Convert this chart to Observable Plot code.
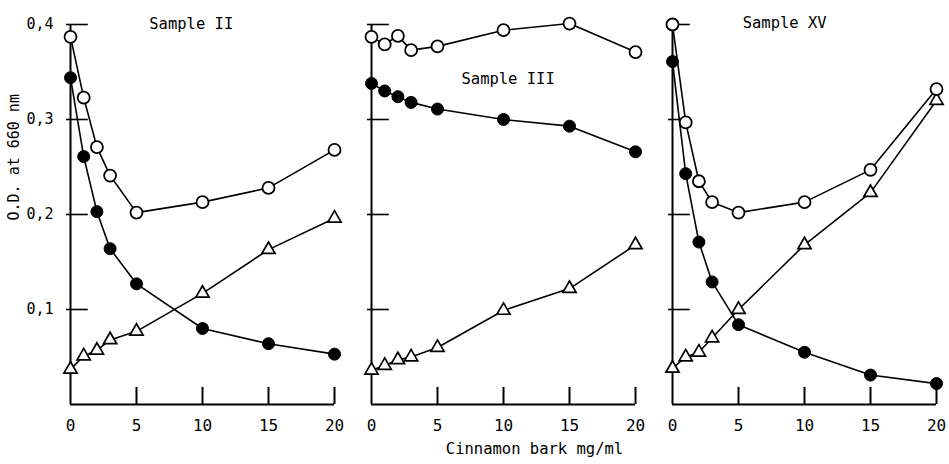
<!DOCTYPE html>
<html>
<head>
<meta charset="utf-8">
<script src="https://cdn.jsdelivr.net/npm/d3@7"></script>
<script src="https://cdn.jsdelivr.net/npm/@observablehq/plot@0.6"></script>
<style>
  html, body { margin: 0; padding: 0; background: #fff; }
</style>
</head>
<body>
<div id="chart"></div>
<script>
// ---- data ----
const conc = [0, 1, 2, 3, 5, 10, 15, 20];
const panels = ["II", "III", "XV"];
const sampleNames = ["Sample II", "Sample III", "Sample XV"];

// Sample II
const openII   = [0.387, 0.323, 0.271, 0.241, 0.202, 0.213, 0.228, 0.268];
const filledII = [0.344, 0.261, 0.203, 0.164, 0.127, 0.080, 0.064, 0.053];
const triII    = [0.037, 0.051, 0.057, 0.068, 0.077, 0.117, 0.163, 0.196];
// Sample III
const openIII   = [0.387, 0.379, 0.388, 0.373, 0.377, 0.394, 0.401, 0.371];
const filledIII = [0.338, 0.330, 0.324, 0.318, 0.311, 0.300, 0.293, 0.266];
const triIII    = [0.036, 0.041, 0.047, 0.050, 0.060, 0.099, 0.122, 0.168];
// Sample XV
const openXV   = [0.400, 0.297, 0.235, 0.213, 0.202, 0.213, 0.247, 0.332];
const filledXV = [0.361, 0.243, 0.171, 0.129, 0.084, 0.055, 0.031, 0.022];
const triXV    = [0.038, 0.050, 0.055, 0.070, 0.100, 0.168, 0.223, 0.320];

const xTicks = [0, 5, 10, 15, 20];
const yTicks = [0.1, 0.2, 0.3, 0.4];
const xTitle = "Cinnamon bark mg/ml";
const yTitle = "O.D. at 660 nm";
// annotation anchor points (data units) for the sample names
const nameX = [9.15, 10.35, 8.5];
const nameY = [0.401, 0.343, 0.402];

// ---- build table ----
const seriesByPanel = {
  II:  {open: openII,  filled: filledII,  tri: triII},
  III: {open: openIII, filled: filledIII, tri: triIII},
  XV:  {open: openXV,  filled: filledXV,  tri: triXV}
};
const rows = [];
for (const p of panels) {
  for (const s of ["open", "filled", "tri"]) {
    seriesByPanel[p][s].forEach((v, i) => rows.push({panel: p, series: s, x: conc[i], y: v}));
  }
}
const names = panels.map((p, i) => ({panel: p, label: sampleNames[i], x: nameX[i], y: nameY[i]}));

const font = '"DejaVu Sans Mono", "Liberation Mono", monospace';

const chart = Plot.plot({
  width: 949,
  height: 464,
  marginTop: 24,
  marginBottom: 60,
  marginLeft: 69,
  marginRight: 12,
  style: {fontFamily: font, background: "#fff", color: "#000"},
  fx: {domain: panels, axis: null, paddingInner: 0.1234, paddingOuter: 0},
  x: {domain: [0, 20], axis: null},
  y: {domain: [0, 0.4], axis: null},
  marks: [
    // axis lines
    Plot.ruleX([0], {stroke: "black", strokeWidth: 2}),
    Plot.ruleY([0], {stroke: "black", strokeWidth: 2}),
    // inward ticks
    Plot.ruleX(xTicks.filter(d => d > 0), {x: d => d, y1: 0, y2: 0.018, stroke: "black", strokeWidth: 2}),
    Plot.ruleY(yTicks, {y: d => d, x1: -0.3, x2: 1.35, stroke: "black", strokeWidth: 1.6}),
    // tick labels
    Plot.text(xTicks, {x: d => d, frameAnchor: "bottom", dy: 26, fontSize: 16, fill: "black"}),
    Plot.text(yTicks, {fx: () => "II", y: d => d, frameAnchor: "left", dx: -17, textAnchor: "end",
      text: d => d.toFixed(1).replace(".", ","), fontSize: 15, fill: "black"}),
    // titles
    Plot.text([yTitle], {fx: () => "II", frameAnchor: "left", dx: -56.5, dy: 6, rotate: -90, fontSize: 15, fill: "black"}),
    Plot.text([xTitle], {fx: () => "III", frameAnchor: "bottom", dy: 49.5, dx: 31, fontSize: 15.5, fill: "black"}),
    Plot.text(names, {fx: "panel", x: "x", y: "y", text: "label", fontSize: 15.5, fill: "black"}),
    // lines
    Plot.line(rows, {fx: "panel", x: "x", y: "y", z: d => d.panel + d.series, stroke: "black", strokeWidth: 1.6}),
    // markers
    Plot.dot(rows.filter(d => d.series === "tri"), {fx: "panel", x: "x", y: "y", symbol: "triangle", r: 4.9, fill: "white", stroke: "black", strokeWidth: 1.7}),
    Plot.dot(rows.filter(d => d.series === "filled"), {fx: "panel", x: "x", y: "y", r: 6, fill: "black", stroke: "black", strokeWidth: 1}),
    Plot.dot(rows.filter(d => d.series === "open"), {fx: "panel", x: "x", y: "y", r: 6, fill: "white", stroke: "black", strokeWidth: 1.8})
  ]
});
document.getElementById("chart").appendChild(chart);
</script>
</body>
</html>
